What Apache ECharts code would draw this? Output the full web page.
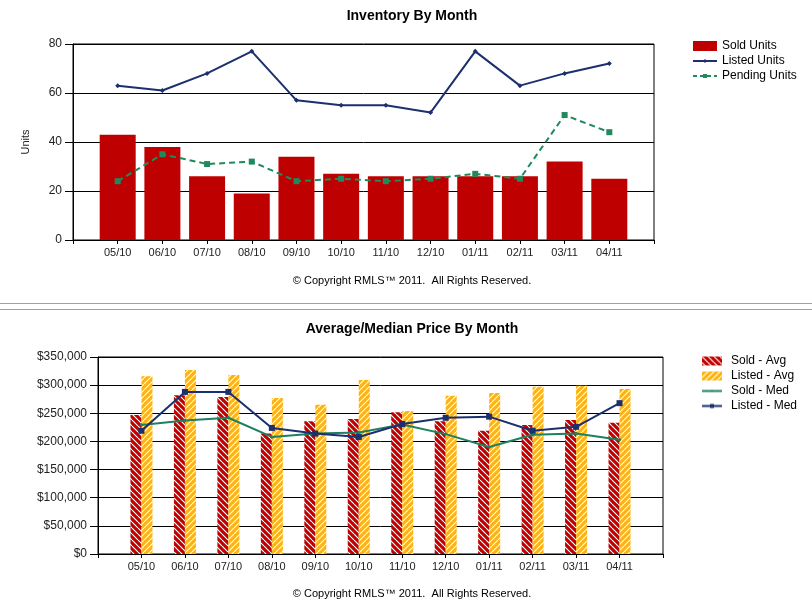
<!DOCTYPE html>
<html>
<head>
<meta charset="utf-8">
<script src="https://cdn.jsdelivr.net/npm/echarts@6/dist/echarts.min.js"></script>
<style>
html, body { margin: 0; padding: 0; background: #fff; }
#main { width: 812px; height: 615px; }
</style>
</head>
<body>
<div id="main"></div>
<script>
// values
var months = ['05/10', '06/10', '07/10', '08/10', '09/10', '10/10', '11/10', '12/10', '01/11', '02/11', '03/11', '04/11'];
var soldUnits = [43, 38, 26, 19, 34, 27, 26, 26, 26, 26, 32, 25];
var listedUnits = [63, 61, 68, 77, 57, 55, 55, 52, 77, 63, 68, 72];
var pendingUnits = [24, 35, 31, 32, 24, 25, 24, 25, 27, 25, 51, 44];
var soldAvg = [247000, 282000, 279000, 214000, 236000, 240000, 252000, 236000, 219000, 229000, 238000, 233000];
var listedAvg = [316000, 327000, 318000, 277000, 265000, 309000, 254000, 281000, 286000, 297000, 299000, 293000];
var soldMed = [229000, 237000, 242000, 208000, 214000, 216000, 230000, 213000, 190000, 212000, 214000, 203000];
var listedMed = [219000, 288000, 288000, 224000, 214000, 208000, 231000, 242000, 244000, 219000, 226000, 268000];

var FONT = 'Arial, "Liberation Sans", sans-serif';
var copyright = '\u00a9 Copyright RMLS\u2122 2011.  All Rights Reserved.';

var RED = '#bf0000', NAVY = '#1c2f6e', GREEN = '#208a5c', GREEN2 = '#1d8060', ORANGE = '#ffb310';

function pairs(arr) {
    return arr.map(function (v, i) { return [i, v]; });
}

// diagonal white stripes on a colour, dir 1 = '/', -1 = '\'
function stripes(bg, dir) {
    var n = 6;
    var c = document.createElement('canvas');
    c.width = n; c.height = n;
    var g = c.getContext('2d');
    g.fillStyle = bg;
    g.fillRect(0, 0, n, n);
    g.strokeStyle = '#ffffff';
    g.lineWidth = 1.1;
    g.beginPath();
    for (var k = -1; k <= 1; k++) {
        if (dir > 0) { g.moveTo(k * n, n); g.lineTo(k * n + n, 0); }
        else { g.moveTo(k * n, 0); g.lineTo(k * n + n, n); }
    }
    g.stroke();
    return c;
}

// small legend picture: line (maybe dashed) with a little marker in the middle
function lineIcon(color, w, h, dashed, marker, msize) {
    var s = 2;
    var c = document.createElement('canvas');
    c.width = w * s; c.height = h * s;
    var g = c.getContext('2d');
    g.scale(s, s);
    g.strokeStyle = color;
    g.fillStyle = color;
    g.lineWidth = 2;
    if (dashed) g.setLineDash([4, 3]);
    g.beginPath();
    g.moveTo(0, h / 2); g.lineTo(w, h / 2);
    g.stroke();
    var cx = w / 2, cy = h / 2, r = msize / 2;
    g.beginPath();
    if (marker === 'rect') {
        g.rect(cx - r, cy - r, msize, msize);
    } else {
        g.moveTo(cx, cy - r); g.lineTo(cx + r, cy); g.lineTo(cx, cy + r); g.lineTo(cx - r, cy);
        g.closePath();
    }
    g.fill();
    return 'image://' + c.toDataURL();
}

function xAxisFor(gridIndex) {
    return {
        type: 'value', gridIndex: gridIndex, min: -1, max: 12, interval: 1,
        axisLine: { show: true, onZero: false, lineStyle: { color: '#000' } },
        axisTick: { show: true, length: 4, lineStyle: { color: '#000' } },
        axisLabel: {
            color: '#222', fontFamily: FONT, fontSize: 11, margin: 7,
            showMinLabel: true, showMaxLabel: true,
            formatter: function (v) { return months[v] || ''; }
        },
        splitLine: { show: false }
    };
}

var myChart = echarts.init(document.getElementById('main'));

var option = {
    animation: false,
    backgroundColor: '#fff',
    title: [
        { text: 'Inventory By Month', left: 412, top: 9, textAlign: 'center', padding: 0,
          textStyle: { fontFamily: FONT, fontSize: 14, fontWeight: 'bold', color: '#000' } },
        { text: copyright, left: 412, top: 275, textAlign: 'center', padding: 0,
          textStyle: { fontFamily: FONT, fontSize: 11, fontWeight: 'normal', color: '#000' } },
        { text: 'Average/Median Price By Month', left: 412, top: 322, textAlign: 'center', padding: 0,
          textStyle: { fontFamily: FONT, fontSize: 14, fontWeight: 'bold', color: '#000' } },
        { text: copyright, left: 412, top: 588, textAlign: 'center', padding: 0,
          textStyle: { fontFamily: FONT, fontSize: 11, fontWeight: 'normal', color: '#000' } }
    ],
    graphic: [
        { type: 'line', shape: { x1: 0, y1: 303.5, x2: 812, y2: 303.5 }, style: { stroke: '#a0a0a0', lineWidth: 1 } },
        { type: 'line', shape: { x1: 0, y1: 309.5, x2: 812, y2: 309.5 }, style: { stroke: '#a0a0a0', lineWidth: 1 } }
    ],
    legend: [
        {
            data: [
                { name: 'Sold Units', icon: 'rect' },
                { name: 'Listed Units', icon: lineIcon(NAVY, 24, 10, false, 'diamond', 4) },
                { name: 'Pending Units', icon: lineIcon(GREEN, 24, 10, true, 'rect', 4) }
            ],
            orient: 'vertical', left: 693, top: 40, padding: 0,
            itemWidth: 24, itemHeight: 10, itemGap: 3,
            textStyle: { fontFamily: FONT, fontSize: 12, color: '#000' }
        },
        {
            data: [
                { name: 'Sold - Avg', icon: 'rect' },
                { name: 'Listed - Avg', icon: 'rect' },
                { name: 'Sold - Med', icon: lineIcon(GREEN2, 20, 9, false, 'diamond', 3) },
                { name: 'Listed - Med', icon: lineIcon(NAVY, 20, 9, false, 'rect', 4) }
            ],
            orient: 'vertical', left: 702, top: 355, padding: 0,
            itemWidth: 20, itemHeight: 9, itemGap: 3,
            textStyle: { fontFamily: FONT, fontSize: 12, color: '#000', padding: [0, 0, 0, 4] }
        }
    ],
    grid: [
        { left: 73, right: 158, top: 44, bottom: 375, show: true, borderColor: '#000', borderWidth: 1 },
        { left: 98, right: 149, top: 357, bottom: 61, show: true, borderColor: '#000', borderWidth: 1 }
    ],
    xAxis: [xAxisFor(0), xAxisFor(1)],
    yAxis: [
        {
            type: 'value', gridIndex: 0, min: 0, max: 80, interval: 20,
            name: 'Units', nameLocation: 'middle', nameGap: 42, nameRotate: 90,
            nameTextStyle: { fontFamily: FONT, fontSize: 11, color: '#222' },
            axisLine: { show: true, onZero: false, lineStyle: { color: '#000' } },
            axisTick: { show: true, length: 8, lineStyle: { color: '#000' } },
            axisLabel: { color: '#222', fontFamily: FONT, fontSize: 12, margin: 11 },
            splitLine: { lineStyle: { color: '#000' } }
        },
        {
            type: 'value', gridIndex: 1, min: 0, max: 350000, interval: 50000,
            axisLine: { show: true, onZero: false, lineStyle: { color: '#000' } },
            axisTick: { show: true, length: 8, lineStyle: { color: '#000' } },
            axisLabel: {
                color: '#222', fontFamily: FONT, fontSize: 12, margin: 11,
                formatter: function (v) { return '$' + v.toLocaleString('en-US'); }
            },
            splitLine: { lineStyle: { color: '#000' } }
        }
    ],
    series: [
        {
            name: 'Sold Units', type: 'bar', xAxisIndex: 0, yAxisIndex: 0,
            barWidth: 36, data: pairs(soldUnits),
            itemStyle: { color: RED }
        },
        {
            name: 'Listed Units', type: 'line', xAxisIndex: 0, yAxisIndex: 0,
            data: pairs(listedUnits), symbol: 'diamond', symbolSize: 5,
            lineStyle: { color: NAVY, width: 2 }, itemStyle: { color: NAVY }
        },
        {
            name: 'Pending Units', type: 'line', xAxisIndex: 0, yAxisIndex: 0,
            data: pairs(pendingUnits), symbol: 'rect', symbolSize: 6,
            lineStyle: { color: GREEN, width: 2, type: [6, 4] }, itemStyle: { color: GREEN }
        },
        {
            name: 'Sold - Avg', type: 'bar', xAxisIndex: 1, yAxisIndex: 1,
            barWidth: 11, barGap: '0%', data: pairs(soldAvg),
            itemStyle: { color: { image: stripes(RED, -1), repeat: 'repeat' } }
        },
        {
            name: 'Listed - Avg', type: 'bar', xAxisIndex: 1, yAxisIndex: 1,
            barWidth: 11, barGap: '0%', data: pairs(listedAvg),
            itemStyle: { color: { image: stripes(ORANGE, 1), repeat: 'repeat' } }
        },
        {
            name: 'Sold - Med', type: 'line', xAxisIndex: 1, yAxisIndex: 1,
            data: pairs(soldMed), symbol: 'diamond', symbolSize: 4,
            lineStyle: { color: GREEN2, width: 2 }, itemStyle: { color: GREEN2 }
        },
        {
            name: 'Listed - Med', type: 'line', xAxisIndex: 1, yAxisIndex: 1,
            data: pairs(listedMed), symbol: 'rect', symbolSize: 6,
            lineStyle: { color: NAVY, width: 2 }, itemStyle: { color: NAVY }
        }
    ]
};

myChart.setOption(option);
</script>
</body>
</html>
